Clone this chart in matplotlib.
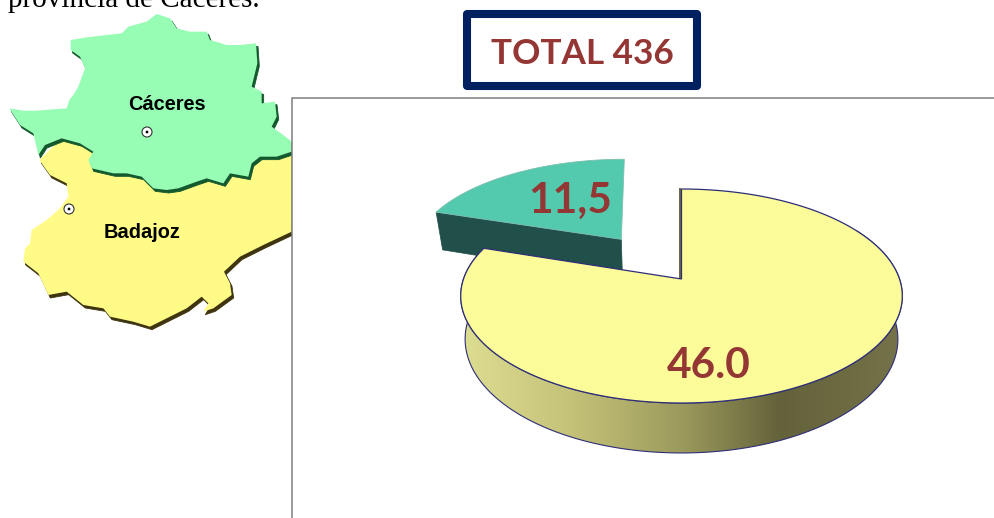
import numpy as np
import matplotlib
matplotlib.use("Agg")
import matplotlib.pyplot as plt
from matplotlib.patches import Polygon, Rectangle, Circle
from matplotlib.colors import LinearSegmentedColormap

# --- chart data ---
slice_names = ["Badajoz", "Cáceres"]
slice_values = [46.0, 11.5]
slice_labels = ["46.0", "11,5"]
slice_explode = [0.0, 0.5]
total_label = "TOTAL 436"
caption = "provincia de Cáceres."

# --- province outlines, traced from a 3x zoom ---
caceres_outline = [(28,325),(70,332),(110,332),(160,328),(200,325),(208,300),(222,282),(235,260),(255,205),(240,170),(212,150),(212,120),
    (260,112),(320,105),(365,100),(385,80),(440,65),(470,42),(510,55),(530,85),(570,95),(620,95),(630,120),(680,135),
    (720,135),(768,130),(772,190),(755,260),(785,275),(785,310),(825,305),(830,350),(815,380),(850,405),(875,425),
    (875,455),(830,470),(780,470),(755,490),(745,530),(690,520),(670,550),(620,535),(590,545),(535,565),(500,570),
    (460,565),(425,530),(380,520),(340,520),(275,505),(265,480),(280,455),(240,430),(185,415),(135,435),(115,465),
    (100,400),(60,375)]
badajoz_outline = [(118,480),(150,525),(200,550),(205,590),(180,625),(140,660),(95,690),(90,730),(75,745),(70,785),
    (115,820),(145,885),(200,875),(250,915),(310,925),(330,950),(400,965),(450,980),(490,960),(560,925),(605,890),
    (625,910),(610,935),(640,925),(695,885),(690,850),(672,815),(720,770),(790,735),(875,695),(875,440),(500,400),(180,420)]
map_cities = [(147,132),(69,209)]

# --- styling ---
YELLOW, TEAL, TEAL_DARK = "#FBFB9A", "#53C9AE", "#21504A"
LABEL = "#943634"
NAVY = "#002060"
EDGE = "#2E2E78"
CX, CY, RX, RY, PERSP, DEPTH, BOTTOM_SCALE = 681.5, 279.0, 218.0, 104.3, 0.159, 42.0, 0.98
TEAL_SHEAR = 0.06

fig = plt.figure(figsize=(9.95, 5.18), dpi=100)
ax = fig.add_axes([0, 0, 1, 1])
ax.axis("off")

def project(u, v, bottom=False):
    u, v = np.asarray(u, float), np.asarray(v, float)
    s = 1 / (1 + PERSP * v)
    x = CX + RX * u * s
    y = CY - RY * v * s
    if bottom:
        x = CX + (x - CX) * BOTTOM_SCALE
        y = y + DEPTH * s
    return np.column_stack([np.atleast_1d(x), np.atleast_1d(y)])

def rim(a0, a1, dx=0.0, dy=0.0, bottom=False, n=160):
    t = np.radians(np.linspace(a0, a1, n))
    return project(np.sin(t) + dx, np.cos(t) + dy, bottom)

# --- caption and map ---
ax.text(8, 7, caption, family="Liberation Serif", fontsize=21, color="black", va="baseline", ha="left")
def province(points, color, shadow):
    pts = np.array(points, float) / 3
    ax.add_patch(Polygon(pts + [2, 3], closed=True, fc=shadow, ec=shadow, lw=0.6, zorder=2))
    ax.add_patch(Polygon(pts, closed=True, fc=color, ec="none", zorder=2))
province(badajoz_outline, "#FFFB86", "#3E3410")
province(caceres_outline, "#97FCB4", "#14592E")
for c in map_cities:
    ax.add_patch(Circle(c, 5, fc="white", ec="#333333", lw=0.8, zorder=3))
    ax.add_patch(Circle(c, 1.4, fc="black", ec="none", zorder=3))
ax.text(167, 104, "Cáceres", family="Liberation Sans", weight="bold", fontsize=14.4, ha="center", va="center", zorder=4)
ax.text(142, 232, "Badajoz", family="Liberation Sans", weight="bold", fontsize=14.4, ha="center", va="center", zorder=4)

# --- chart panel ---
ax.add_patch(Rectangle((292, 98), 720, 440, fc="white", ec="#7F7F7F", lw=1.1, zorder=5))

# --- title box ---
ax.add_patch(Rectangle((467, 14), 230, 71.5, fc="white", ec=NAVY, lw=5.8, joinstyle="round", zorder=6))
ax.text(582, 54, total_label, family="Lato", weight="bold", fontsize=25.3, color=LABEL, ha="center", va="center", zorder=7)

# --- exploded pie ---
fractions = np.array(slice_values) / sum(slice_values)
sweeps = fractions * 360
starts = np.concatenate([[0], np.cumsum(sweeps)[:-1]])
Z = 10

# teal wedge
a0, sw, d = starts[1], sweeps[1], slice_explode[1]
mid = np.radians(a0 + sw / 2)
dx, dy = d * np.sin(mid), d * np.cos(mid)
arc = rim(a0, a0 + sw, dx, dy)
apex_t = project(dx, dy)
arc[:, 0] -= (apex_t[0, 1] - arc[:, 1]) * TEAL_SHEAR
edge_u = np.sin(np.radians(a0))
edge_v = np.cos(np.radians(a0))
p_outer_b = project(edge_u + dx, edge_v + dy, bottom=True)
p_apex_b = project(dx, dy, bottom=True)
ax.add_patch(Polygon(np.vstack([arc[0], apex_t, p_apex_b, p_outer_b]), closed=True, fc=TEAL_DARK, ec=TEAL_DARK, lw=0.5, zorder=Z))
ax.add_patch(Polygon(np.vstack([apex_t, arc]), closed=True, fc=TEAL, ec="#7FBFAF", lw=0.6, zorder=Z + 1))

# yellow wedge side wall with gradient
a0, sw = starts[0], sweeps[0]
top_rim = rim(a0, a0 + sw)
wall_top = rim(60, a0 + sw)
wall_bot = rim(60, a0 + sw, bottom=True)
wall = np.vstack([wall_top, wall_bot[::-1]])
wall_patch = Polygon(wall, closed=True, fc="none", ec=EDGE, lw=0.8, zorder=Z + 3)
ax.add_patch(wall_patch)
cmap = LinearSegmentedColormap.from_list("wall", [(0, "#DEDE93"), (0.25, "#C4C278"), (0.5, "#9C9A5C"), (0.72, "#63623A"), (1, "#757349")])
im = ax.imshow(np.linspace(0, 1, 256).reshape(1, -1), extent=(460, 905, 460, 280), cmap=cmap, aspect="auto", zorder=Z + 2)
im.set_clip_path(wall_patch)

# cut wall strip and top face
apex = project(0, 0)
ax.plot([top_rim[0, 0] - 1.2, apex[0, 0] - 1.2], [top_rim[0, 1], apex[0, 1]], color="#66653C", lw=1.4, zorder=Z + 4)
ax.add_patch(Polygon(np.vstack([apex, top_rim]), closed=True, fc=YELLOW, ec=EDGE, lw=0.9, zorder=Z + 5))

# labels
ax.text(708.5, 366, slice_labels[0], family="Lato", weight="bold", fontsize=30.5, color=LABEL, ha="center", va="center", zorder=Z + 6)
ax.text(570, 201, slice_labels[1], family="Lato", weight="bold", fontsize=30.5, color=LABEL, ha="center", va="center", zorder=Z + 6)

ax.set_xlim(0, 995)
ax.set_ylim(518, 0)
fig.savefig("out.png", dpi=100, facecolor="white")
